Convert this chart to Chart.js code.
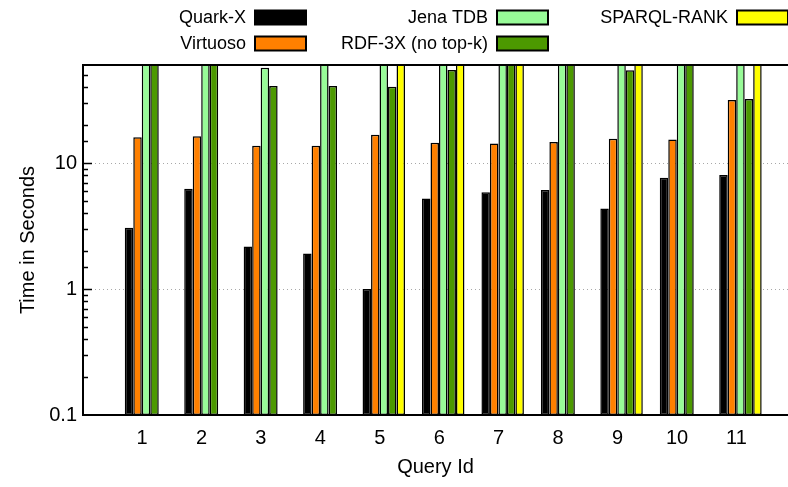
<!DOCTYPE html>
<html>
<head>
<meta charset="utf-8">
<title>Query times</title>
<script src="https://cdn.jsdelivr.net/npm/chart.js@4/dist/chart.umd.min.js"></script>
<style>
  html, body { margin: 0; padding: 0; background: #fff; }
  #wrap { width: 788px; height: 487px; }
</style>
</head>
<body>
<div id="wrap"><canvas id="chart" width="788" height="487"></canvas></div>
<script>
// Query ids on the x axis
const queryIds = [1, 2, 3, 4, 5, 6, 7, 8, 9, 10, 11];

// Running times in seconds per system (100 = ran past the top of the axis)
const quarkX     = [3.07, 6.25, 2.18, 1.91, 1.0, 5.23, 5.87, 6.1, 4.35, 7.65, 8.03];
const virtuoso   = [16.0, 16.3, 13.7, 13.7, 16.8, 14.5, 14.3, 14.7, 15.6, 15.4, 31.6];
const jenaTdb    = [100, 100, 57, 100, 100, 100, 100, 100, 100, 100, 100];
const rdf3x      = [100, 100, 40.8, 40.8, 40.4, 54.7, 100, 100, 54.4, 100, 32.3];
const sparqlRank = [null, null, null, null, 100, 100, 100, null, 100, null, 100];

// Labelled decades on the y axis
const yTickLabels = [0.1, 1, 10];

const seriesLabels = ['Quark-X', 'Virtuoso', 'Jena TDB', 'RDF-3X (no top-k)', 'SPARQL-RANK'];
const seriesValues = [quarkX, virtuoso, jenaTdb, rdf3x, sparqlRank];
const seriesColors = ['#000000', '#ff8000', '#98fb98', '#4c9900', '#ffff00'];

const FONT = "'Liberation Sans', Arial, Helvetica, sans-serif";
const AXIS_FONT = { family: FONT, size: 20 };

const isDecade = v => {
  const l = Math.log10(v);
  return Math.abs(l - Math.round(l)) < 1e-6;
};
const decadeLabel = v => {
  const hit = yTickLabels.find(t => Math.abs(Math.log10(t) - Math.log10(v)) < 1e-6);
  return hit === undefined ? '' : String(hit);
};

const datasets = seriesLabels.map((label, k) => ({
  label,
  data: queryIds.map((q, i) => ({ x: q, y: seriesValues[k][i] })),
  backgroundColor: seriesColors[k],
  borderColor: '#000',
  borderWidth: 1.5,
  borderSkipped: false,
  clip: 0
}));

// Frame on the left, top and bottom of the plot, plus inward y tick marks
const framePlugin = {
  id: 'frame',
  afterDatasetsDraw(chart) {
    const { ctx, chartArea: a } = chart;
    const y = chart.scales.y;
    ctx.save();
    ctx.strokeStyle = '#000';
    ctx.lineWidth = 1.5;
    y.ticks.forEach(t => {
      if (t.value >= y.max || t.value <= y.min) return;
      const py = Math.round(y.getPixelForValue(t.value)) + 0.5;
      const len = isDecade(t.value) ? 9 : 5;
      ctx.beginPath();
      ctx.moveTo(a.left, py);
      ctx.lineTo(a.left + len, py);
      ctx.stroke();
    });
    ctx.lineWidth = 2;
    ctx.beginPath();
    ctx.moveTo(a.right + 2, a.top);
    ctx.lineTo(a.left, a.top);
    ctx.lineTo(a.left, a.bottom);
    ctx.lineTo(a.right + 2, a.bottom);
    ctx.stroke();
    ctx.restore();
  }
};

// Key: text to the left of each swatch, filled column by column, two rows
const keyPlugin = {
  id: 'key',
  afterDraw(chart) {
    const { ctx } = chart;
    const colX = [255, 497, 737];
    const rowY = [17.5, 43.5];
    const boxW = 51, boxH = 14;
    ctx.save();
    ctx.font = '18px ' + FONT;
    ctx.textAlign = 'right';
    ctx.textBaseline = 'middle';
    chart.data.datasets.forEach((ds, i) => {
      const col = Math.floor(i / 2), row = i % 2;
      const bx = colX[col], cy = rowY[row];
      ctx.fillStyle = '#000';
      ctx.fillText(ds.label, bx - 9, cy + 1);
      ctx.fillStyle = ds.backgroundColor;
      ctx.fillRect(bx, cy - boxH / 2, boxW, boxH);
      ctx.lineWidth = 2;
      ctx.strokeStyle = '#000';
      ctx.strokeRect(bx, cy - boxH / 2, boxW, boxH);
    });
    ctx.restore();
  }
};

new Chart(document.getElementById('chart'), {
  type: 'bar',
  data: { datasets },
  plugins: [framePlugin, keyPlugin],
  options: {
    responsive: false,
    devicePixelRatio: 1,
    animation: false,
    layout: { padding: { top: 65, left: 0, right: 0, bottom: 0 } },
    datasets: { bar: { categoryPercentage: 5 / 7, barPercentage: 1, grouped: true } },
    plugins: { legend: { display: false }, tooltip: { enabled: false } },
    scales: {
      x: {
        type: 'linear',
        offset: false,
        min: -0.06,
        max: 11.8,
        afterBuildTicks: axis => { axis.ticks = queryIds.map(v => ({ value: v })); },
        afterFit: axis => { axis.height = 72; },
        grid: { display: false, drawTicks: false, offset: false },
        border: { display: false },
        ticks: {
          autoSkip: false,
          maxRotation: 0,
          padding: 11,
          labelOffset: -4,
          color: '#000',
          font: AXIS_FONT,
          callback: v => String(v)
        },
        title: {
          display: true,
          text: 'Query Id',
          color: '#000',
          font: AXIS_FONT,
          padding: { top: 0, bottom: 8 }
        }
      },
      y: {
        type: 'logarithmic',
        min: 0.1,
        max: 60,
        afterFit: axis => { axis.width = 83; },
        grid: {
          drawTicks: false,
          lineWidth: 1,
          color: c => (c.tick && isDecade(c.tick.value) && c.tick.value > 0.5) ? '#a8a8a8' : 'rgba(0,0,0,0)'
        },
        border: { display: false, dash: [1, 3] },
        ticks: {
          autoSkip: false,
          padding: 6,
          color: '#000',
          font: AXIS_FONT,
          callback: v => decadeLabel(v)
        },
        title: {
          display: true,
          text: 'Time in Seconds',
          color: '#000',
          font: AXIS_FONT,
          padding: { top: 16, bottom: 0 }
        }
      }
    }
  }
});
</script>
</body>
</html>
